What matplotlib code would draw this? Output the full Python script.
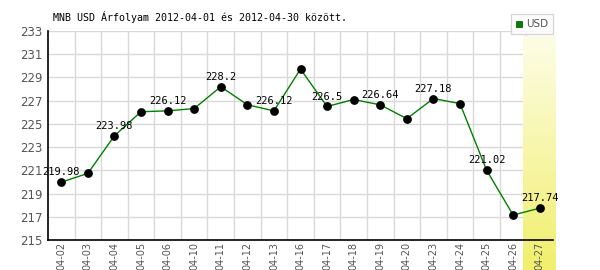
import numpy as np
import matplotlib
matplotlib.use('Agg')
import matplotlib.pyplot as plt
from matplotlib.lines import Line2D

# adatok
dates = ['04-02', '04-03', '04-04', '04-05', '04-06', '04-10', '04-11', '04-12',
         '04-13', '04-16', '04-17', '04-18', '04-19', '04-20', '04-23', '04-24',
         '04-25', '04-26', '04-27']
rates = [219.98, 220.74, 223.98, 226.05, 226.12, 226.32, 228.2, 226.65,
         226.12, 229.72, 226.5, 227.1, 226.64, 225.45, 227.18, 226.75,
         221.02, 217.15, 217.74]
y_ticks = list(range(215, 234, 2))
title = 'MNB USD Árfolyam 2012-04-01 és 2012-04-30 között.'

W, H = 600, 270
fig = plt.figure(figsize=(W / 100, H / 100), dpi=100)
ax = fig.add_axes([48 / W, 30 / H, 505 / W, 209 / H])
ax.patch.set_alpha(0)

x = np.arange(len(dates))
ax.plot(x, rates, color='#008000', lw=1, zorder=3)
ax.scatter(x, rates, s=28, color='black', zorder=4)

# minden második pontnál címke
for i in range(0, len(dates), 2):
    ax.annotate(f'{rates[i]:g}', (x[i], rates[i]), xytext=(0, 3.5),
                textcoords='offset points', ha='center', va='bottom',
                family='DejaVu Sans Mono', fontsize=7.5, zorder=5)

# rács kézzel, hogy a kiemelés alá kerüljön
for yv in y_ticks[1:]:
    ax.axhline(yv, color='#d9d9d9', lw=1, zorder=0.2)
for xv in x[:-1] + 0.5:
    ax.axvline(xv, color='#d9d9d9', lw=1, zorder=0.2)

# sárga kiemelés az utolsó napnál
grad = np.linspace(0, 1, 256).reshape(-1, 1)
cmap = matplotlib.colors.LinearSegmentedColormap.from_list(
    'hl', ['#fdfde6', '#f1ef6c'])
ax.imshow(grad, aspect='auto', cmap=cmap, extent=(17.37, 18.61, 212.4, 232.5),
          origin='upper', clip_on=False, zorder=0.3, interpolation='bilinear')

ax.set_xlim(-0.5, len(dates) - 0.5)
ax.set_ylim(215, 233)
ax.set_xticks(x)
ax.set_xticklabels(dates, rotation=90)
ax.set_yticks(y_ticks)
ax.tick_params(which='both', length=0)
ax.tick_params(axis='x', labelsize=7, labelcolor='#555555', pad=1.5)
ax.tick_params(axis='y', labelsize=8.5, labelcolor='#555555', pad=4)
ax.set_axisbelow(True)
for s in ['top', 'right']:
    ax.spines[s].set_visible(False)
for s in ['left', 'bottom']:
    ax.spines[s].set_color('black')
    ax.spines[s].set_linewidth(1.2)
    ax.spines[s].set_zorder(2.5)

fig.text(53 / W, 1 - 17 / H, title, family='DejaVu Sans Mono', fontsize=7.2,
         va='center', ha='left')

handle = Line2D([], [], marker='s', color='#008000', ls='none',
                markersize=5, markeredgecolor='#004000', markeredgewidth=0.5)
leg = fig.legend([handle], ['USD'], loc='upper right',
                 bbox_to_anchor=(553 / W, 1 - 14 / H), frameon=True,
                 fancybox=False, edgecolor='#cccccc', fontsize=7.5,
                 handlelength=0.6, handletextpad=0.3, borderpad=0.5,
                 borderaxespad=0)
leg.get_frame().set_linewidth(1)
for t in leg.get_texts():
    t.set_color('#555555')

fig.savefig('out.png', dpi=100)
